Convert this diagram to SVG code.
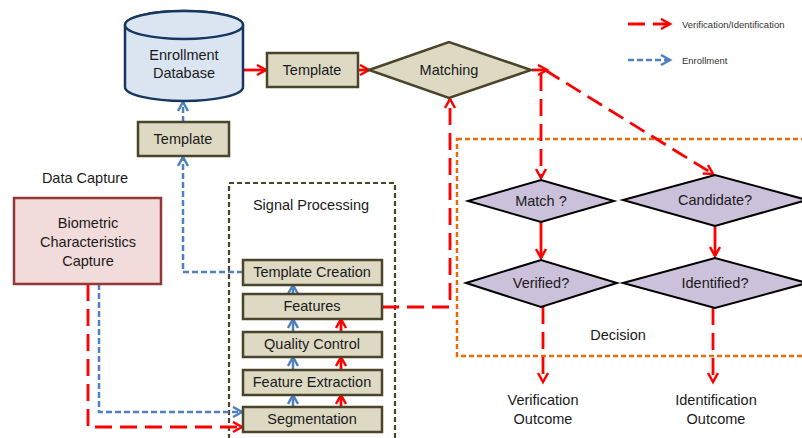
<svg xmlns="http://www.w3.org/2000/svg" width="802" height="438" viewBox="0 0 802 438">
<defs>
<style>
text{font-family:"Liberation Sans",Arial,sans-serif;font-size:14.5px;fill:#1a1a1a;text-anchor:middle}
.proc{fill:#ddd9c3;stroke:#4a452a;stroke-width:2.5}
.dec{fill:#ccc1da;stroke:#000;stroke-width:2}
.red{fill:none;stroke:#ff0000;stroke-width:2.8;stroke-dasharray:17 8}
.redS{fill:none;stroke:#ff0000;stroke-width:2.8}
.blue{fill:none;stroke:#4f81bd;stroke-width:2.5;stroke-dasharray:6 3}
.blueS{fill:none;stroke:#4f81bd;stroke-width:2.5}
.leg{font-size:9.5px;text-anchor:start;fill:#333}
</style>
<marker id="ar" markerUnits="userSpaceOnUse" markerWidth="14" markerHeight="14" refX="10" refY="6" orient="auto">
<path d="M1,1 L10,6 L1,11" fill="none" stroke="#ff0000" stroke-width="2.5" stroke-dasharray="none"/>
</marker>
<marker id="ab" markerUnits="userSpaceOnUse" markerWidth="14" markerHeight="14" refX="10" refY="6" orient="auto">
<path d="M1,1 L10,6 L1,11" fill="none" stroke="#4f81bd" stroke-width="2.5" stroke-dasharray="none"/>
</marker>
</defs>
<rect width="802" height="438" fill="#fff"/>

<g id="containers">
<rect x="229" y="183" width="166" height="270" fill="none" stroke="#4a452a" stroke-width="2.2" stroke-dasharray="5 3"/>
<rect x="457" y="139" width="360" height="217" fill="none" stroke="#e46c0a" stroke-width="2.5" stroke-dasharray="5 3"/>
<text x="311" y="210">Signal Processing</text>
<text x="618" y="340">Decision</text>
<text x="85" y="183">Data Capture</text>
</g>

<g id="connectors">
<path class="redS" d="M243,70 L266,70" marker-end="url(#ar)"/>
<path class="redS" d="M358,70 L369,70" marker-end="url(#ar)"/>
<path class="redS" d="M532,70 L547,70" marker-end="url(#ar)"/>
<path class="red" d="M545,70 L713,174" marker-end="url(#ar)"/>
<path class="red" d="M541,74 L541,178" marker-end="url(#ar)"/>
<path class="redS" d="M541,222 L541,258" marker-end="url(#ar)"/>
<path class="redS" d="M715,226 L715,256" marker-end="url(#ar)"/>
<path class="red" d="M543,307 L543,382" marker-end="url(#ar)"/>
<path class="red" d="M713,308 L713,382" marker-end="url(#ar)"/>
<path class="red" d="M382,307 L450,307 L450,99" marker-end="url(#ar)"/>
<path class="red" d="M88,284 L88,427 L242,427" marker-end="url(#ar)"/>
<path class="blue" d="M99,284 L99,412 L242,412" marker-end="url(#ab)"/>
<path class="blue" d="M243,272 L183,272 L183,157" marker-end="url(#ab)"/>
<path class="blue" d="M183,122 L183,102" marker-end="url(#ab)"/>
<path class="blueS" d="M293,407 L293,395" marker-end="url(#ab)"/>
<path class="blueS" d="M293,370 L293,357" marker-end="url(#ab)"/>
<path class="blueS" d="M293,332 L293,319" marker-end="url(#ab)"/>
<path class="blueS" d="M293,294 L293,285" marker-end="url(#ab)"/>
<path class="redS" d="M341,407 L341,395" marker-end="url(#ar)"/>
<path class="redS" d="M341,370 L341,357" marker-end="url(#ar)"/>
<path class="redS" d="M341,332 L341,319" marker-end="url(#ar)"/>
</g>

<g id="legend">
<path class="red" d="M628,24 L670,24" stroke-dasharray="22 8" marker-end="url(#ar)"/>
<path class="blue" d="M628,60 L670,60" marker-end="url(#ab)"/>
<text class="leg" x="682" y="28">Verification/Identification</text>
<text class="leg" x="682" y="64">Enrollment</text>
</g>

<g id="enrollment-db">
<path d="M125,25 L125,87 A59,14 0 0 0 243,87 L243,25 A59,14 0 0 0 125,25 Z" fill="#dbe5f1" stroke="#17375e" stroke-width="2.5"/>
<ellipse cx="184" cy="25" rx="59" ry="14" fill="#dbe5f1" stroke="#17375e" stroke-width="2.5"/>
<text x="184" y="60">Enrollment</text>
<text x="184" y="78">Database</text>
</g>

<g id="template-top">
<rect class="proc" x="267" y="53" width="91" height="34"/>
<text x="312" y="75">Template</text>
</g>

<g id="template-enroll">
<rect class="proc" x="138" y="122" width="91" height="34"/>
<text x="183" y="144">Template</text>
</g>

<g id="matching">
<polygon class="proc" points="369,70 449,42 531,70 449,98"/>
<text x="449" y="75">Matching</text>
</g>

<g id="biometric">
<rect x="14" y="198" width="147" height="86" fill="#f2dcdb" stroke="#953735" stroke-width="2.5"/>
<text x="88" y="228">Biometric</text>
<text x="88" y="247">Characteristics</text>
<text x="88" y="266">Capture</text>
</g>

<g id="template-creation">
<rect class="proc" x="243" y="260" width="139" height="25"/>
<text x="312" y="277">Template Creation</text>
</g>
<g id="features">
<rect class="proc" x="243" y="294" width="139" height="25"/>
<text x="312" y="311">Features</text>
</g>
<g id="quality-control">
<rect class="proc" x="243" y="332" width="139" height="25"/>
<text x="312" y="349">Quality Control</text>
</g>
<g id="feature-extraction">
<rect class="proc" x="243" y="370" width="139" height="25"/>
<text x="312" y="387">Feature Extraction</text>
</g>
<g id="segmentation">
<rect class="proc" x="243" y="407" width="139" height="25"/>
<text x="312" y="424">Segmentation</text>
</g>

<g id="match-q">
<polygon class="dec" points="468,201 541,180 614,201 541,222"/>
<text x="541" y="206">Match ?</text>
</g>
<g id="candidate-q">
<polygon class="dec" points="623,200 715,175 807,200 715,226"/>
<text x="715" y="205">Candidate?</text>
</g>
<g id="verified-q">
<polygon class="dec" points="466,283 541,260 617,283 541,307"/>
<text x="541" y="288">Verified?</text>
</g>
<g id="identified-q">
<polygon class="dec" points="623,283 715,258 807,283 715,308"/>
<text x="715" y="288">Identified?</text>
</g>

<g id="verification-outcome">
<text x="543" y="405">Verification</text>
<text x="543" y="424">Outcome</text>
</g>
<g id="identification-outcome">
<text x="716" y="405">Identification</text>
<text x="716" y="424">Outcome</text>
</g>
</svg>
